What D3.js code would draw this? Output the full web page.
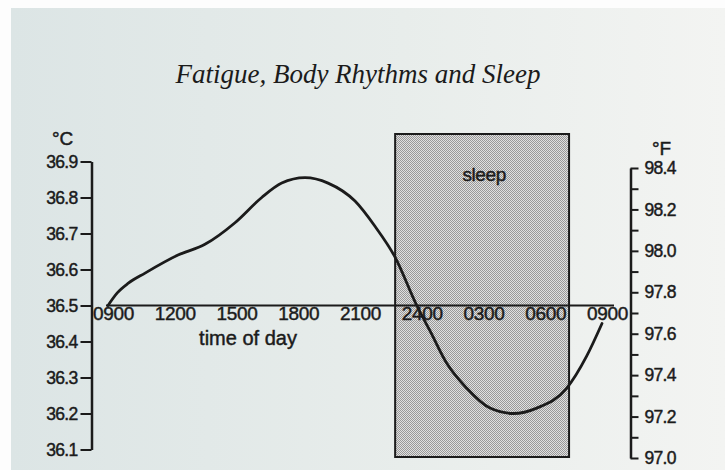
<!DOCTYPE html>
<html>
<head>
  <meta charset="utf-8">
  <title>Fatigue, Body Rhythms and Sleep</title>
  <script src="https://cdn.jsdelivr.net/npm/d3@7/dist/d3.min.js"></script>
  <style>
    body { margin: 0; background: #fff; }
    svg { display: block; }
  </style>
</head>
<body>
  <svg width="725" height="470"></svg>

  <script>
    // hours after 0900, body temperature in °C
    const hours = [0, 0.45, 0.99, 1.8, 3.4, 4.71, 6.17, 7.47, 8.44, 9.57, 10.69, 12.0, 12.97,
                   13.94, 15.0, 15.64, 16.45, 17.43, 18.56, 19.69, 20.83, 22.28, 23.26, 24];
    const tempC = [36.5, 36.535, 36.562, 36.59, 36.64, 36.67, 36.73, 36.8, 36.84, 36.855, 36.84, 36.79, 36.72,
                   36.635, 36.5, 36.43, 36.34, 36.27, 36.215, 36.2, 36.215, 36.27, 36.36, 36.45];

    const timeLabels = ["0900", "1200", "1500", "1800", "2100", "2400", "0300", "0600", "0900"];
    const timeTicks = [0, 3, 6, 9, 12, 15, 18, 21, 24];

    const cTicks = [36.1, 36.2, 36.3, 36.4, 36.5, 36.6, 36.7, 36.8, 36.9];
    const fTicks = [97.0, 97.1, 97.2, 97.3, 97.4, 97.5, 97.6, 97.7, 97.8, 97.9, 98.0, 98.1, 98.2, 98.3, 98.4];

    // sleep period, hours after 0900
    const sleepStart = 13.95;
    const sleepEnd = 22.4;

    const data = hours.map((h, i) => ({ h: h, t: tempC[i] }));

    const svg = d3.select("svg");
    const ink = "#1b1b1b";
    const sans = "'Liberation Sans', Arial, sans-serif";

    // scanned paper look
    const defs = svg.append("defs");
    const grad = defs.append("linearGradient").attr("id", "paper");
    grad.append("stop").attr("offset", "0%").attr("stop-color", "#dce5e5");
    grad.append("stop").attr("offset", "55%").attr("stop-color", "#e8edeb");
    grad.append("stop").attr("offset", "100%").attr("stop-color", "#f3f4f2");

    const pat = defs.append("pattern").attr("id", "dots")
      .attr("width", 2).attr("height", 2).attr("patternUnits", "userSpaceOnUse");
    pat.append("rect").attr("width", 2).attr("height", 2).attr("fill", "#e0e0e0");
    pat.append("rect").attr("width", 1).attr("height", 1).attr("fill", "#999");
    pat.append("rect").attr("x", 1).attr("y", 1).attr("width", 1).attr("height", 1).attr("fill", "#999");

    svg.append("rect").attr("width", 725).attr("height", 470).attr("fill", "#fdfdfd");
    svg.append("rect").attr("x", 11).attr("y", 8).attr("width", 714).attr("height", 462)
      .attr("fill", "url(#paper)");

    const x = d3.scaleLinear().domain([0, 24]).range([108, 602]);
    const yC = d3.scaleLinear().domain([36.1, 36.9]).range([449.5, 161.5]);
    const yF = d3.scaleLinear().domain([97.0, 98.4]).range([458, 168]);

    // heavier text, like the printed page
    function ink_text(sel, size) {
      sel.attr("font-family", sans)
        .attr("font-size", size)
        .attr("fill", ink)
        .attr("stroke", ink)
        .attr("stroke-width", 0.45);
    }

    // title
    svg.append("text")
      .attr("x", 358).attr("y", 83)
      .attr("text-anchor", "middle")
      .attr("font-family", "'Liberation Serif', 'Times New Roman', serif")
      .attr("font-style", "italic")
      .attr("font-size", 27)
      .attr("fill", ink)
      .text("Fatigue, Body Rhythms and Sleep");

    // sleep box
    svg.append("rect")
      .attr("x", x(sleepStart))
      .attr("y", 134)
      .attr("width", x(sleepEnd) - x(sleepStart))
      .attr("height", 323)
      .attr("fill", "url(#dots)")
      .attr("stroke", ink)
      .attr("stroke-width", 2);

    svg.append("text")
      .attr("x", (x(sleepStart) + x(sleepEnd)) / 2 + 2).attr("y", 181)
      .attr("text-anchor", "middle")
      .call(ink_text, 19)
      .attr("letter-spacing", -0.4)
      .text("sleep");

    // left axis (°C)
    const leftAxis = svg.append("g")
      .attr("transform", "translate(91.5,0)")
      .call(d3.axisLeft(yC).tickValues(cTicks).tickSize(11).tickSizeOuter(0).tickPadding(3)
        .tickFormat(d3.format(".1f")));

    // right axis (°F)
    const rightAxis = svg.append("g")
      .attr("transform", "translate(630.5,0)")
      .call(d3.axisRight(yF).tickValues(fTicks).tickSize(8).tickSizeOuter(0).tickPadding(6)
        .tickFormat(d => Math.round(d * 10) % 2 === 0 ? d3.format(".1f")(d) : ""));

    [leftAxis, rightAxis].forEach(a => {
      a.select(".domain").attr("stroke", ink).attr("stroke-width", 2.5);
      a.selectAll(".tick line").attr("stroke", ink).attr("stroke-width", 2);
      a.selectAll(".tick text")
        .call(ink_text, 17.5)
        .attr("letter-spacing", -0.7);
    });

    svg.append("text").attr("x", 52).attr("y", 145).call(ink_text, 19).text("°C");
    svg.append("text").attr("x", 652).attr("y", 155).call(ink_text, 19).text("°F");

    // time axis
    const y0 = yC(36.5);
    svg.append("line")
      .attr("x1", x(0) - 2).attr("x2", x(24) + 12)
      .attr("y1", y0).attr("y2", y0)
      .attr("stroke", ink).attr("stroke-width", 2);

    const bottomAxis = svg.append("g")
      .attr("transform", `translate(5,${y0})`)
      .call(d3.axisBottom(x).tickValues(timeTicks).tickSize(0).tickPadding(1)
        .tickFormat((d, i) => timeLabels[i]));
    bottomAxis.select(".domain").remove();
    bottomAxis.selectAll(".tick text")
      .call(ink_text, 19)
      .attr("letter-spacing", -0.3);

    svg.append("text")
      .attr("x", 248).attr("y", 345)
      .attr("text-anchor", "middle")
      .call(ink_text, 20)
      .text("time of day");

    // temperature curve
    const line = d3.line()
      .x(d => x(d.h))
      .y(d => yC(d.t))
      .curve(d3.curveMonotoneX);

    svg.append("path")
      .datum(data)
      .attr("fill", "none")
      .attr("stroke", ink)
      .attr("stroke-width", 2.8)
      .attr("stroke-linecap", "round")
      .attr("d", line);
  </script>
</body>
</html>
